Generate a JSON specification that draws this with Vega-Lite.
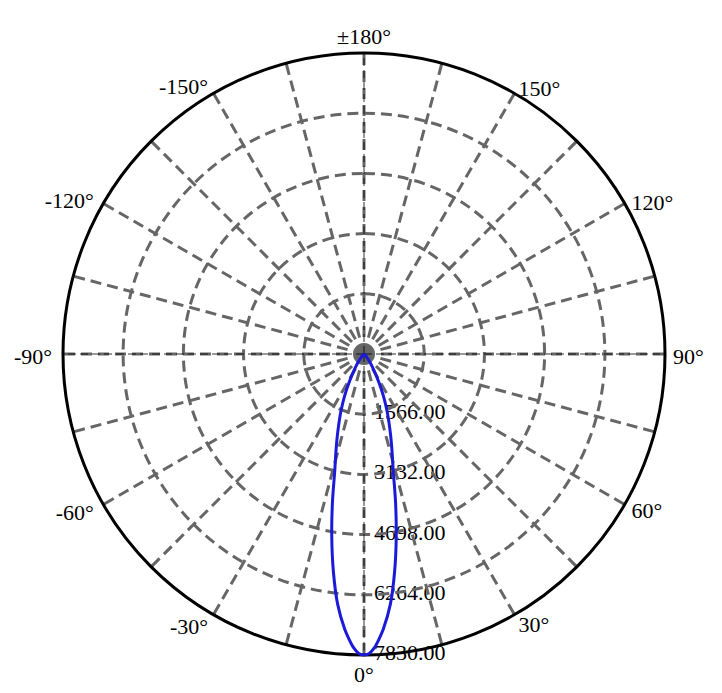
{
  "$schema": "https://vega.github.io/schema/vega-lite/v6.json",
  "description": "Polar luminous intensity distribution",
  "width": 602,
  "height": 602,
  "autosize": {"type": "none"},
  "padding": {"left": 63, "top": 53, "right": 57, "bottom": 38},
  "background": "white",
  "config": {
    "view": {"stroke": null},
    "text": {"font": "Liberation Serif", "fontSize": 22, "color": "black"}
  },
  "datasets": {
    "rings": [
      {"r": 1566, "label": "1566.00"},
      {"r": 3132, "label": "3132.00"},
      {"r": 4698, "label": "4698.00"},
      {"r": 6264, "label": "6264.00"},
      {"r": 7830, "label": "7830.00"}
    ],
    "spokes": [
      {"a": 0}, {"a": 15}, {"a": 30}, {"a": 45}, {"a": 60}, {"a": 75},
      {"a": 90}, {"a": 105}, {"a": 120}, {"a": 135}, {"a": 150}, {"a": 165},
      {"a": 180}, {"a": 195}, {"a": 210}, {"a": 225}, {"a": 240}, {"a": 255},
      {"a": 270}, {"a": 285}, {"a": 300}, {"a": 315}, {"a": 330}, {"a": 345}
    ],
    "labels": [
      {"a": 0, "label": "0°"},
      {"a": 30, "label": "30°"},
      {"a": 60, "label": "60°"},
      {"a": 90, "label": "90°"},
      {"a": 120, "label": "120°"},
      {"a": 150, "label": "150°"},
      {"a": 180, "label": "±180°"},
      {"a": -30, "label": "-30°"},
      {"a": -60, "label": "-60°"},
      {"a": -90, "label": "-90°"},
      {"a": -120, "label": "-120°"},
      {"a": -150, "label": "-150°"}
    ],
    "curve": [
      {"a": -90, "v": 0},
      {"a": -60, "v": 10},
      {"a": -50, "v": 40},
      {"a": -40, "v": 120},
      {"a": -36, "v": 250},
      {"a": -32, "v": 450},
      {"a": -28, "v": 800},
      {"a": -25, "v": 1180},
      {"a": -22, "v": 1600},
      {"a": -20, "v": 1900},
      {"a": -18, "v": 2250},
      {"a": -16, "v": 2650},
      {"a": -14, "v": 3150},
      {"a": -12, "v": 3950},
      {"a": -10, "v": 4830},
      {"a": -8, "v": 5720},
      {"a": -6, "v": 6550},
      {"a": -4, "v": 7180},
      {"a": -3, "v": 7430},
      {"a": -2, "v": 7650},
      {"a": -1, "v": 7790},
      {"a": 0, "v": 7830},
      {"a": 1, "v": 7790},
      {"a": 2, "v": 7650},
      {"a": 3, "v": 7430},
      {"a": 4, "v": 7180},
      {"a": 6, "v": 6550},
      {"a": 8, "v": 5720},
      {"a": 10, "v": 4830},
      {"a": 12, "v": 3950},
      {"a": 14, "v": 3150},
      {"a": 16, "v": 2650},
      {"a": 18, "v": 2250},
      {"a": 20, "v": 1900},
      {"a": 22, "v": 1600},
      {"a": 25, "v": 1180},
      {"a": 28, "v": 800},
      {"a": 32, "v": 450},
      {"a": 36, "v": 250},
      {"a": 40, "v": 120},
      {"a": 50, "v": 40},
      {"a": 60, "v": 10},
      {"a": 90, "v": 0}
    ]
  },
  "layer": [
    {
      "data": {"name": "rings"},
      "transform": [
        {"calculate": "0", "as": "x"},
        {"calculate": "-datum.r", "as": "y"}
      ],
      "mark": {"type": "text", "align": "left", "baseline": "middle", "dx": 10, "dy": -2},
      "encoding": {
        "x": {"field": "x", "type": "quantitative", "scale": {"domain": [-7830, 7830], "nice": false, "zero": false}, "axis": null},
        "y": {"field": "y", "type": "quantitative", "scale": {"domain": [-7830, 7830], "nice": false, "zero": false}, "axis": null},
        "text": {"field": "label", "type": "nominal"}
      }
    },
    {
      "data": {"name": "labels"},
      "transform": [
        {"filter": "datum.a > 0 && datum.a < 180"},
        {"calculate": "8038 * sin(datum.a * PI / 180)", "as": "x"},
        {"calculate": "-8038 * cos(datum.a * PI / 180)", "as": "y"}
      ],
      "mark": {"type": "text", "align": "left", "baseline": "middle", "dy": 3},
      "encoding": {
        "x": {"field": "x", "type": "quantitative", "scale": {"domain": [-7830, 7830], "nice": false, "zero": false}, "axis": null},
        "y": {"field": "y", "type": "quantitative", "scale": {"domain": [-7830, 7830], "nice": false, "zero": false}, "axis": null},
        "text": {"field": "label", "type": "nominal"}
      }
    },
    {
      "data": {"name": "labels"},
      "transform": [
        {"filter": "datum.a < 0"},
        {"calculate": "8116 * sin(datum.a * PI / 180)", "as": "x"},
        {"calculate": "-8116 * cos(datum.a * PI / 180)", "as": "y"}
      ],
      "mark": {"type": "text", "align": "right", "baseline": "middle", "dy": 3},
      "encoding": {
        "x": {"field": "x", "type": "quantitative", "scale": {"domain": [-7830, 7830], "nice": false, "zero": false}, "axis": null},
        "y": {"field": "y", "type": "quantitative", "scale": {"domain": [-7830, 7830], "nice": false, "zero": false}, "axis": null},
        "text": {"field": "label", "type": "nominal"}
      }
    },
    {
      "data": {"name": "labels"},
      "transform": [
        {"filter": "datum.a == 0 || datum.a == 180"},
        {"calculate": "8298 * sin(datum.a * PI / 180)", "as": "x"},
        {"calculate": "-8298 * cos(datum.a * PI / 180)", "as": "y"}
      ],
      "mark": {"type": "text", "align": "center", "baseline": "middle", "dy": 2},
      "encoding": {
        "x": {"field": "x", "type": "quantitative", "scale": {"domain": [-7830, 7830], "nice": false, "zero": false}, "axis": null},
        "y": {"field": "y", "type": "quantitative", "scale": {"domain": [-7830, 7830], "nice": false, "zero": false}, "axis": null},
        "text": {"field": "label", "type": "nominal"}
      }
    },
    {
      "data": {"name": "rings"},
      "transform": [{"filter": "datum.r < 7830"}],
      "mark": {
        "type": "arc",
        "filled": false,
        "stroke": "#666666",
        "strokeWidth": 3,
        "strokeDash": [11, 6],
        "theta": 0,
        "theta2": 6.2831853071795864
      },
      "encoding": {
        "radius": {"field": "r", "type": "quantitative", "stack": null, "scale": {"type": "linear", "domain": [0, 7830], "zero": true, "nice": false}}
      }
    },
    {
      "data": {"name": "spokes"},
      "transform": [
        {"calculate": "0", "as": "sx"},
        {"calculate": "0", "as": "sy"},
        {"calculate": "7830 * sin(datum.a * PI / 180)", "as": "ex"},
        {"calculate": "-7830 * cos(datum.a * PI / 180)", "as": "ey"}
      ],
      "mark": {"type": "rule", "stroke": "#666666", "strokeWidth": 3, "strokeDash": [11, 6]},
      "encoding": {
        "x": {"field": "sx", "type": "quantitative", "scale": {"domain": [-7830, 7830], "nice": false, "zero": false}, "axis": null},
        "y": {"field": "sy", "type": "quantitative", "scale": {"domain": [-7830, 7830], "nice": false, "zero": false}, "axis": null},
        "x2": {"field": "ex"},
        "y2": {"field": "ey"}
      }
    },
    {
      "data": {"name": "spokes"},
      "transform": [
        {"filter": "datum.a % 90 == 0"},
        {"calculate": "0", "as": "sx"},
        {"calculate": "0", "as": "sy"},
        {"calculate": "7830 * sin(datum.a * PI / 180)", "as": "ex"},
        {"calculate": "-7830 * cos(datum.a * PI / 180)", "as": "ey"}
      ],
      "mark": {"type": "rule", "stroke": "#000000", "strokeWidth": 1, "strokeDash": [8, 4], "opacity": 0.8},
      "encoding": {
        "x": {"field": "sx", "type": "quantitative", "scale": {"domain": [-7830, 7830], "nice": false, "zero": false}, "axis": null},
        "y": {"field": "sy", "type": "quantitative", "scale": {"domain": [-7830, 7830], "nice": false, "zero": false}, "axis": null},
        "x2": {"field": "ex"},
        "y2": {"field": "ey"}
      }
    },
    {
      "data": {"name": "rings"},
      "transform": [{"filter": "datum.r == 7830"}],
      "mark": {
        "type": "arc",
        "filled": false,
        "stroke": "#000000",
        "strokeWidth": 3,
        "theta": 0,
        "theta2": 6.2831853071795864
      },
      "encoding": {
        "radius": {"field": "r", "type": "quantitative", "stack": null, "scale": {"type": "linear", "domain": [0, 7830], "zero": true, "nice": false}}
      }
    },
    {
      "data": {"name": "curve"},
      "transform": [
        {"calculate": "datum.v * sin(datum.a * PI / 180)", "as": "x"},
        {"calculate": "-datum.v * cos(datum.a * PI / 180)", "as": "y"}
      ],
      "mark": {"type": "line", "stroke": "#1a1ad8", "strokeWidth": 3, "interpolate": "catmull-rom"},
      "encoding": {
        "x": {"field": "x", "type": "quantitative", "scale": {"domain": [-7830, 7830], "nice": false, "zero": false}, "axis": null},
        "y": {"field": "y", "type": "quantitative", "scale": {"domain": [-7830, 7830], "nice": false, "zero": false}, "axis": null},
        "order": {"field": "a", "type": "quantitative"}
      }
    }
  ]
}
